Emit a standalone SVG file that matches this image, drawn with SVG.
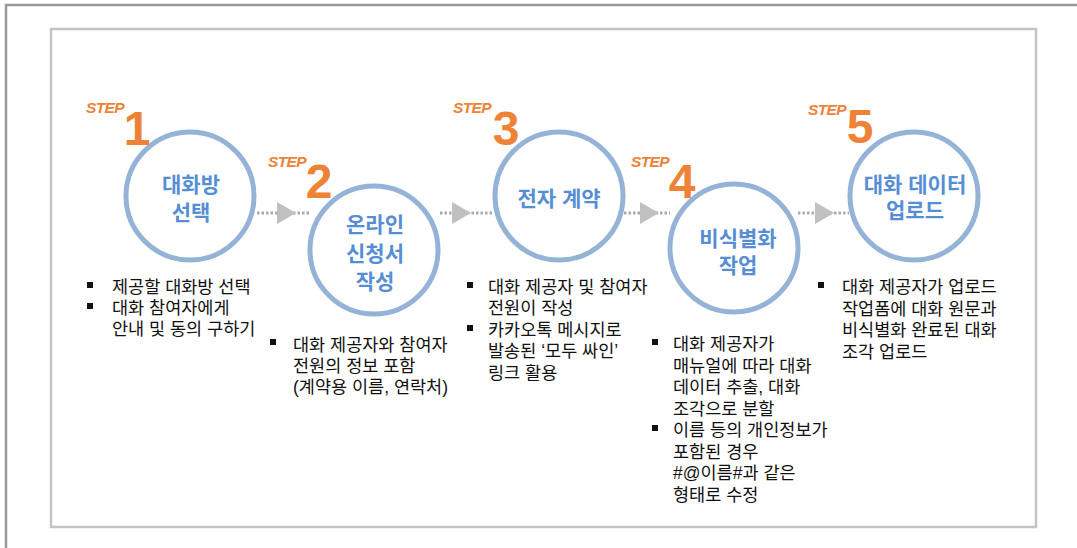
<svg xmlns="http://www.w3.org/2000/svg" width="1077" height="548" viewBox="0 0 1077 548">
<style>
.frame{fill:none;stroke:#9a9a9a;stroke-width:2.5}
.box{fill:#ffffff;stroke:#c4c4c4;stroke-width:2.5}
.circ{fill:#ffffff;stroke:#95B3D7;stroke-width:5}
.lbl{font-family:"Liberation Sans","Noto Sans CJK KR",sans-serif;font-weight:bold;font-size:21px;fill:#558ED5;text-anchor:middle}
.step{font-family:"Liberation Sans",Arial,sans-serif;font-weight:bold;font-style:italic;font-size:15.5px;letter-spacing:-0.6px;fill:#EE8236}
.num{font-family:"Liberation Sans",Arial,sans-serif;font-weight:bold;font-size:48px;fill:#EE8236;text-anchor:middle}
.txt{font-family:"Liberation Sans","Noto Sans CJK KR",sans-serif;font-size:17.5px;fill:#111111}
.bul{fill:#111111}
.dash{stroke:#aaaaaa;stroke-width:3;stroke-dasharray:2.5 2;fill:none}
.tri{fill:#c0c0c0}
</style>
<rect width="1077" height="548" fill="#ffffff"/>
<path class="frame" d="M6,548 V5 H1077"/>
<rect class="box" x="51" y="29" width="985" height="498"/>

<g id="connectors">
  <line class="dash" x1="257" y1="213" x2="310" y2="213"/>
  <polygon class="tri" points="277,202 296,213 277,224"/>
  <line class="dash" x1="440" y1="213" x2="494" y2="213"/>
  <polygon class="tri" points="452,202 471,213 452,224"/>
  <line class="dash" x1="624" y1="213" x2="670" y2="213"/>
  <polygon class="tri" points="640,202 659,213 640,224"/>
  <line class="dash" x1="798" y1="213" x2="849" y2="213"/>
  <polygon class="tri" points="815,202 834,213 815,224"/>
</g>

<g id="step1">
  <circle class="circ" cx="190" cy="196" r="64"/>
  <text class="step" x="86" y="113">STEP</text>
  <text class="num" x="137" y="145">1</text>
  <text class="lbl" x="191" y="192">대화방</text>
  <text class="lbl" x="191" y="220">선택</text>
  <rect class="bul" x="87" y="282" width="6" height="6"/>
  <text class="txt" x="112" y="293">제공할 대화방 선택</text>
  <rect class="bul" x="87" y="303" width="6" height="6"/>
  <text class="txt" x="112" y="314">대화 참여자에게</text>
  <text class="txt" x="112" y="335">안내 및 동의 구하기</text>
</g>

<g id="step2">
  <circle class="circ" cx="374" cy="250" r="64"/>
  <text class="step" x="268" y="167">STEP</text>
  <text class="num" x="319" y="198">2</text>
  <text class="lbl" x="375" y="232">온라인</text>
  <text class="lbl" x="375" y="261">신청서</text>
  <text class="lbl" x="375" y="289">작성</text>
  <rect class="bul" x="270" y="339" width="6" height="6"/>
  <text class="txt" x="293" y="351">대화 제공자와 참여자</text>
  <text class="txt" x="293" y="372">전원의 정보 포함</text>
  <text class="txt" x="293" y="393">(계약용 이름, 연락처)</text>
</g>

<g id="step3">
  <circle class="circ" cx="559" cy="196" r="64"/>
  <text class="step" x="453" y="113">STEP</text>
  <text class="num" x="506" y="145">3</text>
  <text class="lbl" x="559" y="206">전자 계약</text>
  <rect class="bul" x="467" y="282" width="6" height="6"/>
  <text class="txt" x="488" y="293">대화 제공자 및 참여자</text>
  <text class="txt" x="488" y="314">전원이 작성</text>
  <rect class="bul" x="467" y="325" width="6" height="6"/>
  <text class="txt" x="488" y="336">카카오톡 메시지로</text>
  <text class="txt" x="488" y="357">발송된 ‘모두 싸인’</text>
  <text class="txt" x="488" y="379">링크 활용</text>
</g>

<g id="step4">
  <circle class="circ" cx="734" cy="248" r="64"/>
  <text class="step" x="631" y="167">STEP</text>
  <text class="num" x="682" y="198">4</text>
  <text class="lbl" x="738" y="246">비식별화</text>
  <text class="lbl" x="738" y="273">작업</text>
  <rect class="bul" x="652" y="339" width="6" height="6"/>
  <text class="txt" x="673" y="350">대화 제공자가</text>
  <text class="txt" x="673" y="371.5">매뉴얼에 따라 대화</text>
  <text class="txt" x="673" y="393">데이터 추출, 대화</text>
  <text class="txt" x="673" y="414.5">조각으로 분할</text>
  <rect class="bul" x="652" y="425" width="6" height="6"/>
  <text class="txt" x="673" y="436">이름 등의 개인정보가</text>
  <text class="txt" x="673" y="457.5">포함된 경우</text>
  <text class="txt" x="673" y="479">#@이름#과 같은</text>
  <text class="txt" x="673" y="500.5">형태로 수정</text>
</g>

<g id="step5">
  <circle class="circ" cx="914" cy="196" r="64"/>
  <text class="step" x="808" y="115">STEP</text>
  <text class="num" x="860" y="143">5</text>
  <text class="lbl" x="915" y="192">대화 데이터</text>
  <text class="lbl" x="915" y="218">업로드</text>
  <rect class="bul" x="818" y="282" width="6" height="6"/>
  <text class="txt" x="842" y="293">대화 제공자가 업로드</text>
  <text class="txt" x="842" y="314.5">작업폼에 대화 원문과</text>
  <text class="txt" x="842" y="336">비식별화 완료된 대화</text>
  <text class="txt" x="842" y="357.5">조각 업로드</text>
</g>
</svg>
